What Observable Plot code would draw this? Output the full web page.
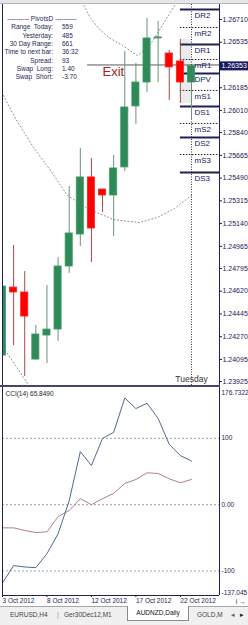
<!DOCTYPE html>
<html><head><meta charset="utf-8">
<script src="https://cdn.jsdelivr.net/npm/d3@7"></script>
<script src="https://cdn.jsdelivr.net/npm/@observablehq/plot@0.6"></script>
<style>
html,body{margin:0;padding:0;background:#fff;}
#root{position:relative;width:248px;height:625px;overflow:hidden;background:#fff;font-family:"Liberation Sans",Arial,sans-serif;}
.abs{position:absolute;}
#topbar{left:0;top:0;width:248px;height:4px;background:#e6e6e6;border-bottom:1px solid #b4b4c4;box-sizing:border-box;}
.info{position:absolute;font-size:6.5px;color:#1e1e5a;white-space:pre;line-height:8px;}
#sep{left:0;top:385px;width:220px;height:2px;background:#45456e;}
#tabs{left:0;top:606px;width:248px;height:19px;background:#f0f0f0;border-top:1px solid #a8a8a8;box-sizing:border-box;}
.tab{position:absolute;top:3px;font-size:6.5px;color:#444;white-space:pre;line-height:9px;}
#active{left:127px;top:-1px;width:62px;height:15px;background:#fff;border:1px solid #8a8a8a;border-top:none;box-sizing:border-box;text-align:center;font-size:6.5px;line-height:13px;color:#111;}
</style></head>
<body>
<div id="root">
  <div id="main" class="abs" style="left:0;top:0"></div>
  <div id="topbar" class="abs"></div>
  <div id="info" class="abs" style="left:0;top:0"></div>
  <div id="sep" class="abs"></div>
  <div id="cci" class="abs" style="left:0;top:387px"></div>
  <div id="tabs" class="abs"></div>
</div>
<script>
// ---------- data ----------
const dates = ["2012-10-03","2012-10-04","2012-10-05","2012-10-07","2012-10-08","2012-10-09","2012-10-10","2012-10-11","2012-10-12","2012-10-14","2012-10-15","2012-10-16","2012-10-17","2012-10-18","2012-10-19","2012-10-21","2012-10-22","2012-10-23"];
const open  = [1.24125,1.24648,1.24610,1.24094,1.24279,1.24325,1.24810,1.25056,1.25495,1.25402,1.25356,1.25572,1.26041,1.26225,1.26564,1.26448,1.26387,1.26225];
const high  = [1.24725,1.24971,1.24771,1.24356,1.24664,1.24879,1.25425,1.25718,1.25641,1.25402,1.25664,1.26464,1.26372,1.26718,1.26695,1.26472,1.26556,1.26353];
const low   = [1.23971,1.24202,1.23964,1.24090,1.24064,1.24233,1.24756,1.24964,1.24841,1.25225,1.25041,1.25541,1.25902,1.26148,1.26225,1.26087,1.26064,1.25933];
const close = [1.24656,1.24610,1.24425,1.24287,1.24325,1.24810,1.25064,1.25495,1.25102,1.25356,1.25564,1.26033,1.26225,1.26564,1.26572,1.26341,1.26225,1.26353];

const cci   = [-118,-92,-94,-95,-74,-44,6,80,59,100,109,161,145,153,130,91,74,65.849];
const cciMa = [-35,-35,-39,-42,-41,-18,-9,9,0,9,17,32,38,48,47,39,33,38];
const cciTitle = "CCI(14) 65.8490";
const cciLevels = [100, 0, -100];
const cciAxisLabels = ["176.7322","100","0.00","-100","-137.045"];
const cciAxisValues = [176.7322, 100, 0, -100, -137.045];

const pivotNames  = ["DR2","mR2","DR1","mR1","DPV","mS1","DS1","mS2","DS2","mS3","DS3"];
const pivotLevels = [1.26787,1.26648,1.26518,1.26402,1.26295,1.26164,1.26041,1.25910,1.25802,1.25671,1.25533];

const priceTicks = [1.26710,1.26535,1.26185,1.26010,1.25840,1.25665,1.25490,1.25315,1.25140,1.24965,1.24795,1.24620,1.24445,1.24270,1.24095,1.23925];
const priceTop = 1.26825, priceBottom = 1.23887;
const currentPrice = 1.26353;
const exitPrice = 1.26360, exitStartBar = 7.65, exitLabelBar = 9.0;

// chart objects (bar index, price)
const curveUpper = [[7.20,1.26840],[7.38,1.26810],[7.92,1.26718],[8.82,1.26625],[9.71,1.26564],[10.79,1.26510],[12.14,1.26433],[13.13,1.26495],[14.21,1.26641],[15.65,1.26841]];
const curveMiddle = [[0.09,1.26125],[0.45,1.26064],[1.17,1.25948],[2.79,1.25725],[4.32,1.25548],[5.85,1.25356],[7.65,1.25256],[9.98,1.25171],[12.32,1.25148],[13.94,1.25187],[15.47,1.25256],[17.0,1.25356]];
const curveLower = [[0.09,1.24187],[1.17,1.24048],[2.25,1.23910]];

const infoTitle = "---------- PivotsD ----------";
const infoLabels = ["Range  Today:","Yesterday:","30 Day Range:","Time to next bar:","Spread:","Swap  Long:","Swap  Short:"];
const infoValues = ["559","485","661","36:32","93","1.40","-3.70"];

const tabNames = ["EURUSD,H4","Ger30Dec12,M1","AUDNZD,Daily","GOLD,M"];
const dayLabel = "Tuesday";

// ---------- build ----------
const xEnd = 19.52; // right edge of chart area in bar units
const bars = dates.map((d,i)=>({i, date:d, open:open[i], high:high[i], low:low[i], close:close[i]}));
const up = d => d.close >= d.open;
const pivots = pivotNames.map((n,i)=>({name:n, v:pivotLevels[i], solid: n[0] === "D"}));
const yesterday = bars[bars.length-2];
const lastIdx = bars.length-1;
const navy = "#1f1f5c";
const font = '"Liberation Sans", Arial, sans-serif';
const dotted = {stroke: "#8c8c8c", strokeDasharray: "1,2.5", strokeWidth: 1, clip: true};

const mainPlot = Plot.plot({
  width: 248, height: 386,
  marginTop: 4, marginBottom: 0, marginLeft: 2, marginRight: 29,
  x: {domain: [0, xEnd], axis: null},
  y: {domain: [priceBottom, priceTop], axis: null},
  style: {fontFamily: font, fontSize: "7px", color: "#1a1a50", background: "transparent", overflow: "visible"},
  marks: [
    Plot.rect([yesterday], {x1: yesterday.i, x2: lastIdx, y1: "low", y2: "high", fill: "#ebebeb"}),
    Plot.line(curveUpper, {x: d=>d[0], y: d=>d[1], ...dotted}),
    Plot.line(curveMiddle, {x: d=>d[0], y: d=>d[1], ...dotted}),
    Plot.line(curveLower, {x: d=>d[0], y: d=>d[1], ...dotted}),
    Plot.ruleX([lastIdx], {stroke: "#333", strokeDasharray: "1,1.5"}),
    Plot.ruleY([exitPrice], {x1: exitStartBar, x2: xEnd, stroke: "#5a5a5a"}),
    Plot.ruleY(pivots.filter(p=>!p.solid), {y: "v", x1: yesterday.i, x2: xEnd, stroke: "#222", strokeDasharray: "1.5,1.5"}),
    Plot.ruleY(pivots.filter(p=>p.solid), {y: "v", x1: yesterday.i, x2: xEnd, stroke: navy, strokeWidth: 2}),
    Plot.ruleX(bars, {x: "i", y1: "low", y2: "high", stroke: d => up(d) ? "#6b937c" : "#a84848", clip: true}),
    Plot.rect(bars, {x1: d=>d.i-0.32, x2: d=>d.i+0.32, y1: "open", y2: "close", fill: d => up(d) ? "#2e8b57" : "#ff0000", stroke: d => up(d) ? "#3f9a68" : "#ff2020", strokeWidth: 0.8, clip: true}),
    Plot.text(pivots, {x: lastIdx, y: "v", text: "name", dx: 3, dy: 6, textAnchor: "start", fontSize: 8, fill: "#202058"}),
    Plot.text(["Exit"], {x: exitLabelBar, y: exitPrice, dy: 2, lineAnchor: "top", textAnchor: "start", fontSize: 13, fill: "#a02424"}),
    Plot.text([dayLabel], {x: lastIdx, frameAnchor: "bottom", dy: -5, fontSize: 8.5, fill: "#333"}),
    Plot.ruleX([xEnd], {stroke: navy}),
    Plot.ruleX([0], {stroke: navy}),
    Plot.axisY({anchor: "right", ticks: priceTicks, tickFormat: d3.format(".5f"), tickSize: 2, tickPadding: 1, fontSize: 7}),
    Plot.ruleY([currentPrice], {x1: xEnd, x2: xEnd + 2.7, stroke: "#1a1a60", strokeWidth: 9}),
    Plot.text([currentPrice], {x: xEnd, y: d=>d, text: d3.format(".5f"), dx: 2, textAnchor: "start", fill: "white", fontSize: 7})
  ]
});
document.getElementById("main").appendChild(mainPlot);

const fmtDate = d3.timeFormat("%-d %b %Y");
const parseDate = d3.utcParse("%Y-%m-%d");
const cciAxis = cciAxisLabels.map((t,i)=>({t, v: cciAxisValues[i]}));
const cciRows = bars.map((b,i)=>({i, cci: cci[i], ma: cciMa[i]}));
const cciPlot = Plot.plot({
  width: 248, height: 219,
  marginTop: 0, marginBottom: 11, marginLeft: 2, marginRight: 29,
  x: {domain: [0, xEnd]},
  y: {domain: [cciAxisValues[4], cciAxisValues[0]], axis: null},
  style: {fontFamily: font, fontSize: "6.5px", color: "#1a1a50", background: "transparent", overflow: "visible"},
  marks: [
    Plot.ruleY(cciLevels, {stroke: "#a0a0a0", strokeDasharray: "2,2"}),
    Plot.line(cciRows, {x: "i", y: "ma", stroke: "#b0808c", strokeWidth: 1, clip: true}),
    Plot.line(cciRows, {x: "i", y: "cci", stroke: "#4d6a91", strokeWidth: 1, clip: true}),
    Plot.text([cciTitle], {frameAnchor: "top-left", dx: 3, dy: 4, textAnchor: "start", lineAnchor: "top", fontSize: 6.5, fill: "#222"}),
    Plot.text(cciAxis.slice(1,4), {x: xEnd, y: "v", text: "t", dx: 2, textAnchor: "start", fontSize: 6.5}),
    Plot.text(cciAxis.slice(0,1), {x: xEnd, y: "v", text: "t", dx: 2, dy: 3, lineAnchor: "top", textAnchor: "start", fontSize: 6.5}),
    Plot.text(cciAxis.slice(4), {x: xEnd, y: "v", text: "t", dx: 2, dy: -1, lineAnchor: "bottom", textAnchor: "start", fontSize: 6.5}),
    Plot.ruleX([xEnd], {stroke: navy}),
    Plot.ruleX([0], {stroke: navy}),
    Plot.ruleY([cciAxisValues[4]], {x1: 0, x2: xEnd, stroke: navy}),
    Plot.axisX({ticks: [0,4,8,12,16], tickFormat: i => fmtDate(parseDate(dates[i])), textAnchor: "start", tickSize: 2, tickPadding: 1, fontSize: 6.5})
  ]
});
document.getElementById("cci").appendChild(cciPlot);

// info panel
const info = document.getElementById("info");
function addDiv(parent, text, css, cls) {
  const el = document.createElement("div");
  el.className = cls; el.textContent = text; el.style.cssText += css;
  parent.appendChild(el); return el;
}
addDiv(info, infoTitle, "left:0;width:84px;text-align:center;top:15px;", "info");
infoLabels.forEach((t,i)=>{
  const top = 15 + 8.35*(i+1);
  addDiv(info, t, `left:0;width:53px;text-align:right;top:${top}px;`, "info");
  addDiv(info, infoValues[i], `left:62px;top:${top}px;`, "info");
});

// tabs
const tabs = document.getElementById("tabs");
addDiv(tabs, tabNames[0], "left:10px;", "tab");
addDiv(tabs, "|", "left:57px;color:#888;", "tab");
addDiv(tabs, tabNames[1], "left:64px;", "tab");
const act = document.createElement("div"); act.id = "active"; act.className = "abs"; act.textContent = tabNames[2]; tabs.appendChild(act);
addDiv(tabs, tabNames[3], "left:197px;width:30px;overflow:hidden;", "tab");
addDiv(tabs, "◂", "left:231px;font-size:7px;color:#666;", "tab");
addDiv(tabs, "▸", "left:240px;font-size:7px;color:#222;", "tab");
</script>
</body></html>
